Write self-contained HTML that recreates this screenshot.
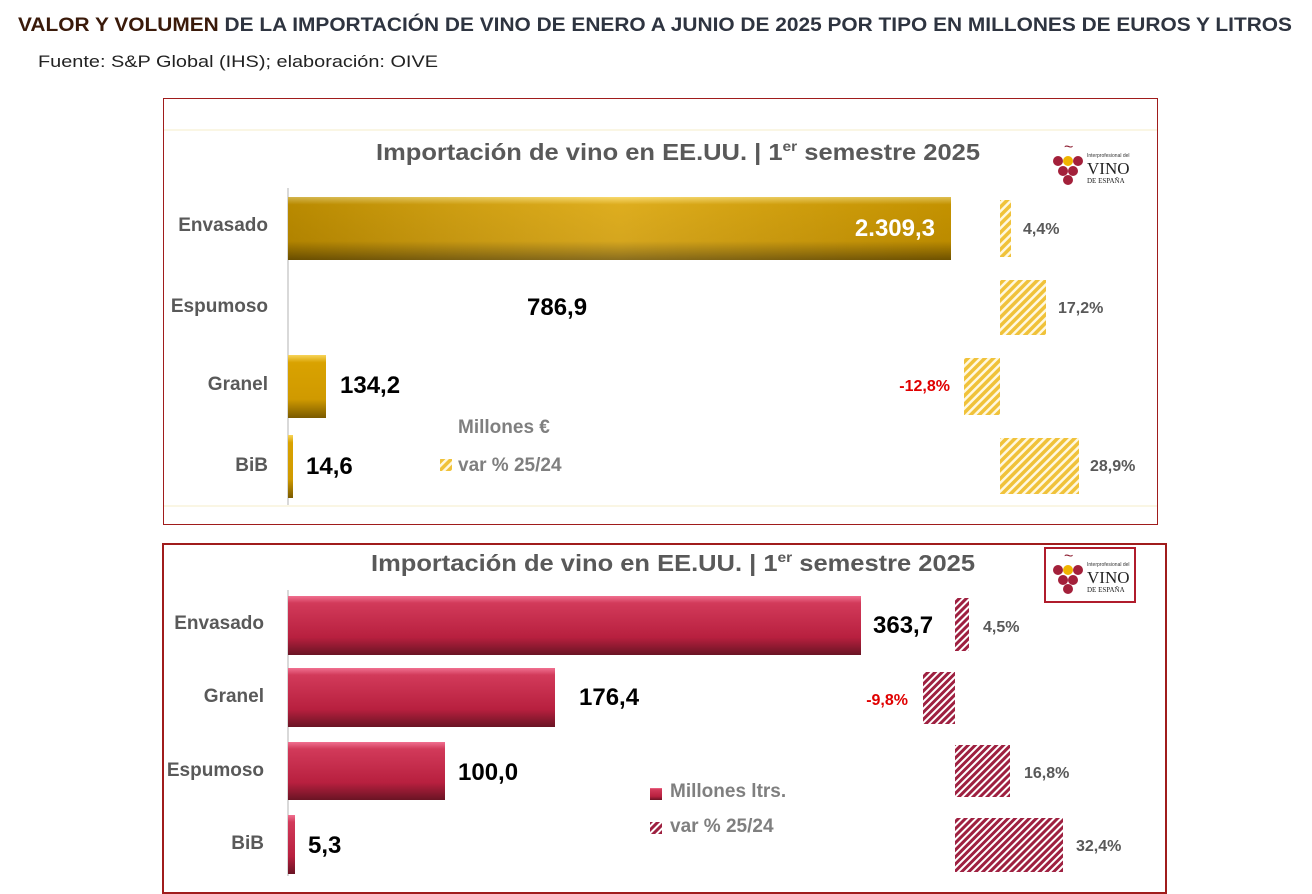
<!DOCTYPE html>
<html><head><meta charset="utf-8"><style>
html,body{margin:0;padding:0;background:#fff;}
svg{display:block;font-family:"Liberation Sans",sans-serif;}
</style></head><body>
<svg width="1312" height="894" viewBox="0 0 1312 894" xmlns="http://www.w3.org/2000/svg">
<defs>
<pattern id="gh" width="6" height="6" patternUnits="userSpaceOnUse" patternTransform="rotate(45)">
<rect width="6" height="6" fill="#fff8e0"/><rect width="3.5" height="6" fill="#f0c23a"/></pattern>
<pattern id="rh" width="5" height="5" patternUnits="userSpaceOnUse" patternTransform="rotate(45)">
<rect width="5" height="5" fill="#fff"/><rect width="3" height="5" fill="#9e2040"/></pattern>
<linearGradient id="gg" x1="0" y1="0" x2="0" y2="1">
<stop offset="0" stop-color="#f7d45a"/><stop offset="0.12" stop-color="#d9a200"/><stop offset="0.7" stop-color="#d09a00"/><stop offset="1" stop-color="#7a5a00"/></linearGradient>
<linearGradient id="gx" x1="0" y1="0" x2="1" y2="0">
<stop offset="0" stop-color="#000" stop-opacity="0.15"/><stop offset="0.5" stop-color="#fff" stop-opacity="0.12"/><stop offset="1" stop-color="#000" stop-opacity="0.1"/></linearGradient>
<linearGradient id="rg" x1="0" y1="0" x2="0" y2="1">
<stop offset="0" stop-color="#f07090"/><stop offset="0.12" stop-color="#d23a5a"/><stop offset="0.7" stop-color="#b8203f"/><stop offset="1" stop-color="#6a1424"/></linearGradient>
</defs>

<text x="18" y="31" font-size="19" font-weight="bold" textLength="1274" lengthAdjust="spacingAndGlyphs"><tspan fill="#3a1a0a">VALOR Y VOLUMEN</tspan><tspan fill="#2e3440"> DE LA IMPORTACIÓN DE VINO DE ENERO A JUNIO DE 2025 POR TIPO EN MILLONES DE EUROS Y LITROS</tspan></text>
<text x="38" y="67" font-size="17" fill="#222" textLength="400" lengthAdjust="spacingAndGlyphs">Fuente: S&amp;P Global (IHS); elaboración: OIVE</text>

<!-- Panel 1 -->
<rect x="163.5" y="98.5" width="994" height="426" fill="#fff" stroke="#a01c1c" stroke-width="1"/>
<line x1="164" y1="130" x2="1157" y2="130" stroke="#f5ecc8"/>
<line x1="164" y1="506" x2="1157" y2="506" stroke="#f5ecc8"/>
<text x="376" y="160" font-size="23" font-weight="bold" fill="#595959" textLength="604" lengthAdjust="spacingAndGlyphs">Importación de vino en EE.UU. | 1<tspan font-size="14" dy="-9">er</tspan><tspan dy="9"> semestre 2025</tspan></text>
<g transform="translate(1052,146)">
<text x="12" y="6" font-size="16" fill="#8b1a2e">~</text>
<circle cx="6" cy="15" r="5" fill="#a3203a"/><circle cx="16" cy="15" r="5" fill="#f0b400"/><circle cx="26" cy="15" r="5" fill="#a3203a"/>
<circle cx="11" cy="25" r="5" fill="#a3203a"/><circle cx="21" cy="25" r="5" fill="#a3203a"/><circle cx="16" cy="34" r="5" fill="#a3203a"/>
<text x="35" y="11" font-size="5" fill="#333">Interprofesional del</text>
<text x="35" y="28" font-size="17" font-family="Liberation Serif,serif" fill="#222">VINO</text>
<text x="35" y="37" font-size="7" font-family="Liberation Serif,serif" fill="#222">DE ESPAÑA</text>
</g>
<line x1="288" y1="188" x2="288" y2="505" stroke="#d9d9d9" stroke-width="2"/>
<rect x="288" y="197" width="663" height="63" fill="url(#gg)"/><rect x="288" y="197" width="663" height="63" fill="url(#gx)"/>
<rect x="288" y="355" width="38" height="63" fill="url(#gg)"/>
<rect x="288" y="435" width="5" height="63" fill="url(#gg)"/>
<g font-size="19" font-weight="bold" fill="#595959" text-anchor="end">
<text x="268" y="231">Envasado</text><text x="268" y="312">Espumoso</text><text x="268" y="390">Granel</text><text x="268" y="471">BiB</text>
</g>
<g font-size="24" font-weight="bold" fill="#000">
<text x="935" y="236" fill="#fff" text-anchor="end">2.309,3</text>
<text x="527" y="315">786,9</text><text x="340" y="393">134,2</text><text x="306" y="474">14,6</text>
</g>
<rect x="1000" y="200" width="11" height="57" fill="url(#gh)"/>
<rect x="1000" y="280" width="46" height="55" fill="url(#gh)"/>
<rect x="964" y="358" width="36" height="57" fill="url(#gh)"/>
<rect x="1000" y="438" width="79" height="56" fill="url(#gh)"/>
<g font-size="16" font-weight="bold" fill="#595959">
<text x="1023" y="234">4,4%</text><text x="1058" y="313">17,2%</text>
<text x="950" y="391" fill="#e00000" text-anchor="end">-12,8%</text><text x="1090" y="471">28,9%</text>
</g>
<text x="458" y="433" font-size="19" font-weight="bold" fill="#7f7f7f">Millones €</text>
<rect x="440" y="459" width="12" height="12" fill="url(#gh)"/>
<text x="458" y="471" font-size="19" font-weight="bold" fill="#7f7f7f">var % 25/24</text>

<!-- Panel 2 -->
<rect x="163" y="544" width="1003" height="349" fill="#fff" stroke="#a01c1c" stroke-width="2"/>
<text x="371" y="571" font-size="23" font-weight="bold" fill="#595959" textLength="604" lengthAdjust="spacingAndGlyphs">Importación de vino en EE.UU. | 1<tspan font-size="14" dy="-9">er</tspan><tspan dy="9"> semestre 2025</tspan></text>
<rect x="1045" y="548" width="90" height="54" fill="#fff" stroke="#b01c2c" stroke-width="2"/>
<g transform="translate(1052,555)">
<text x="12" y="6" font-size="16" fill="#8b1a2e">~</text>
<circle cx="6" cy="15" r="5" fill="#a3203a"/><circle cx="16" cy="15" r="5" fill="#f0b400"/><circle cx="26" cy="15" r="5" fill="#a3203a"/>
<circle cx="11" cy="25" r="5" fill="#a3203a"/><circle cx="21" cy="25" r="5" fill="#a3203a"/><circle cx="16" cy="34" r="5" fill="#a3203a"/>
<text x="35" y="11" font-size="5" fill="#333">Interprofesional del</text>
<text x="35" y="28" font-size="17" font-family="Liberation Serif,serif" fill="#222">VINO</text>
<text x="35" y="37" font-size="7" font-family="Liberation Serif,serif" fill="#222">DE ESPAÑA</text>
</g>
<line x1="288" y1="590" x2="288" y2="876" stroke="#d9d9d9" stroke-width="2"/>
<rect x="288" y="596" width="573" height="59" fill="url(#rg)"/>
<rect x="288" y="668" width="267" height="59" fill="url(#rg)"/>
<rect x="288" y="742" width="157" height="58" fill="url(#rg)"/>
<rect x="288" y="815" width="7" height="59" fill="url(#rg)"/>
<g font-size="19" font-weight="bold" fill="#595959" text-anchor="end">
<text x="264" y="629">Envasado</text><text x="264" y="702">Granel</text><text x="264" y="776">Espumoso</text><text x="264" y="849">BiB</text>
</g>
<g font-size="24" font-weight="bold" fill="#000">
<text x="873" y="633">363,7</text><text x="579" y="705">176,4</text><text x="458" y="780">100,0</text><text x="308" y="853">5,3</text>
</g>
<rect x="955" y="598" width="14" height="53" fill="url(#rh)"/>
<rect x="923" y="672" width="32" height="52" fill="url(#rh)"/>
<rect x="955" y="745" width="55" height="52" fill="url(#rh)"/>
<rect x="955" y="818" width="108" height="54" fill="url(#rh)"/>
<g font-size="16" font-weight="bold" fill="#595959">
<text x="983" y="632">4,5%</text><text x="908" y="705" fill="#e00000" text-anchor="end">-9,8%</text>
<text x="1024" y="778">16,8%</text><text x="1076" y="851">32,4%</text>
</g>
<rect x="650" y="788" width="12" height="12" fill="url(#rg)"/>
<text x="670" y="797" font-size="19" font-weight="bold" fill="#7f7f7f">Millones ltrs.</text>
<rect x="650" y="822" width="12" height="12" fill="url(#rh)"/>
<text x="670" y="832" font-size="19" font-weight="bold" fill="#7f7f7f">var % 25/24</text>
</svg>
</body></html>
